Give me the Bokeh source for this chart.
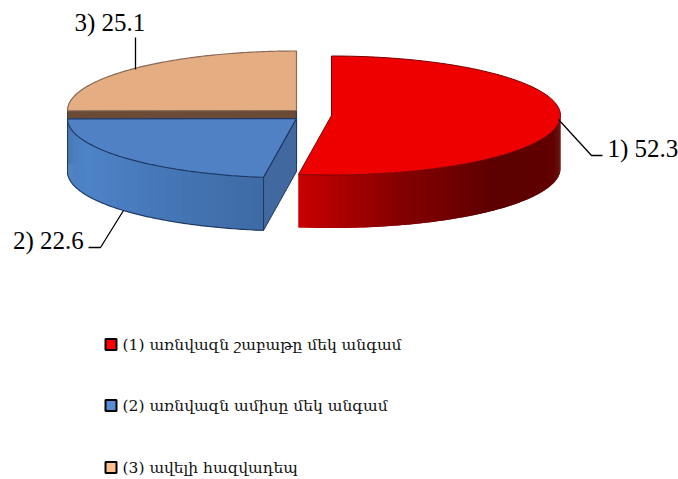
import numpy as np
from bokeh.plotting import figure
from bokeh.embed import file_html
from bokeh.resources import INLINE
from bokeh.core.properties import value

values = [52.3, 22.6, 25.1]
data_labels = ["1) 52.3", "2) 22.6", "3) 25.1"]
legend_labels = ["(1) առնվազն շաբաթը մեկ անգամ", "(2) առնվազն ամիսը մեկ անգամ", "(3) ավելի հազվադեպ"]
legend_colors = ["#ff0000", "#558ed5", "#fac090"]
top_colors = ["#ee0000", "#4f81c4", "#e5ad82"]
edge_colors = ["#7a0000", "#1f3864", "#8a6a55"]
centers = [(331, 115), (296, 118), (296, 110)]
RX, RY, DEPTH = 229, 59.5, 53

p = figure(width=678, height=479, x_range=(0, 678), y_range=(479, 0),
           output_backend="svg", toolbar_location=None, min_border=0,
           outline_line_color=None, background_fill_color="white")
p.axis.visible = False
p.grid.visible = False

cum = np.concatenate([[0], np.cumsum(values)]) / sum(values) * 2 * np.pi


def arc(c, a0, a1, n=120):
    t = np.linspace(a0, a1, n)
    return c[0] + RX * np.sin(t), c[1] - RY * np.cos(t)


def lerp(stops, f):
    xs = [s[0] for s in stops]
    r = [np.interp(f, xs, [s[1][i] for s in stops]) for i in range(3)]
    return "#%02x%02x%02x" % tuple(int(round(v)) for v in r)


def side(c, a0, a1, stops, n=160):
    xs, ys, cols = [], [], []
    t = np.linspace(a0, a1, n + 1)
    x = c[0] + RX * np.sin(t)
    y = c[1] - RY * np.cos(t)
    # strips overlap the next one, so that no seam between them shows
    for i in range(n):
        j = min(i + 2, n)
        xs.append([x[i], x[j], x[j], x[i]])
        ys.append([y[i], y[j], y[j] + DEPTH, y[i] + DEPTH])
        cols.append(lerp(stops, (i + .5) / n))
    p.patches(xs, ys, fill_color=cols, line_color=None)


# orange slice (back)
c = centers[2]
a0, a1 = cum[2], cum[3]
lx, ly = arc(c, a0, a0, 1)
p.patch([c[0], lx[0], lx[0], c[0]], [c[1], ly[0], ly[0] + DEPTH, c[1] + DEPTH],
        fill_color="#6b4a38", line_color="#4f3a30", line_width=1)
p.line([c[0], c[0]], [c[1], c[1] + DEPTH], line_color="#33405a", line_width=1.2)
x, y = arc(c, a0, a1)
p.patch(list(x) + [c[0]], list(y) + [c[1]], fill_color=top_colors[2], line_color=edge_colors[2], line_width=1.2)

# blue slice
c = centers[1]
a0, a1 = cum[1], cum[2]
fx, fy = arc(c, a0, a0, 1)
p.patch([c[0], fx[0], fx[0], c[0]], [c[1], fy[0], fy[0] + DEPTH, c[1] + DEPTH],
        fill_color="#41699f", line_color="#1f3864", line_width=1)
side(c, a0, a1, [(0, (62, 107, 165)), (0.35, (70, 120, 184)), (0.7, (78, 132, 200)), (1, (70, 122, 186))])
x, y = arc(c, a0, a1)
p.line(list(x), list(y + DEPTH), line_color=edge_colors[1], line_width=1.2)
p.line([x[0], x[0]], [y[0], y[0] + DEPTH], line_color=edge_colors[1], line_width=1)
p.line([x[-1], x[-1]], [y[-1], y[-1] + DEPTH], line_color=edge_colors[1], line_width=1)
p.patch(list(x) + [c[0]], list(y) + [c[1]], fill_color=top_colors[1], line_color=edge_colors[1], line_width=1.2)

# red slice
c = centers[0]
a0, a1 = cum[0], cum[1]
side(c, np.pi / 2, a1, [(0, (100, 0, 0)), (0.45, (92, 0, 0)), (0.75, (135, 0, 0)), (1, (200, 0, 0))])
x, y = arc(c, a0, a1)
p.patch(list(x) + [c[0]], list(y) + [c[1]], fill_color=top_colors[0], line_color=edge_colors[0], line_width=1)

# leader lines
leaders = [([558, 591, 602], [119, 155, 155]), ([123, 100, 88], [210, 247, 247]), ([135, 135], [37, 69])]
for lxs, lys in leaders:
    p.line(lxs, lys, line_color="black", line_width=1.3)

# data labels
p.text([607, 12.5, 74], [148, 240, 22], text=data_labels, text_font=value("Liberation Serif"),
       text_font_size="25px", text_color="black", text_baseline="middle", text_align="left")

# legend
ly = [344, 405, 467]
p.scatter([110.5] * 3, ly, marker="square", size=11, fill_color=legend_colors, line_color="black", line_width=2)
p.text([122] * 3, ly, text=legend_labels, text_font=value("DejaVu Serif"), text_font_size="15.5px",
       text_color="#111111", text_baseline="middle", text_align="left")

open("out.html", "w").write(file_html(p, INLINE))
